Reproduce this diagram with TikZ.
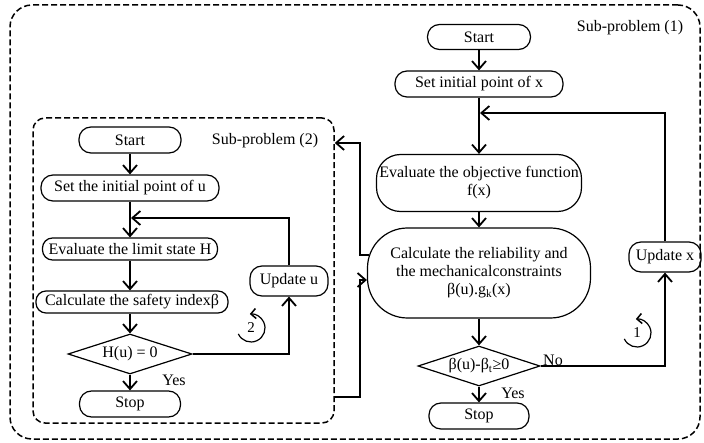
\documentclass[tikz,border=0pt]{standalone}
\usepackage{fontspec}
\setmainfont{Liberation Serif}
\usetikzlibrary{arrows.meta,shapes.geometric}

\begin{document}
\begin{tikzpicture}[x=1pt,y=1pt,
  every node/.style={font=\fontsize{16}{18}\selectfont},
  flow/.style={draw,line width=1.2pt,rounded corners=12pt,minimum height=26pt,inner sep=2pt,align=center},
  test/.style={draw,line width=1.2pt,diamond,aspect=3,inner sep=0pt,minimum width=122pt,minimum height=40pt},
  sub/.style={draw,line width=1.5pt,dash pattern=on 6pt off 3pt,rounded corners=#1,inner sep=0pt},
  go/.style={line width=1.4pt,-{Straight Barb[length=8pt,width=14pt,line width=1.8pt]}},
  turn/.style={line width=1.2pt,-{Straight Barb[length=5pt,width=10pt,line width=1.5pt]}}]
  \useasboundingbox (0,0) rectangle (704,442);

  % the two sub-problem frames
  \node[sub=22pt,minimum width=690pt,minimum height=434pt] (sub1) at (355,220) {};
  \node[sub=12pt,minimum width=301pt,minimum height=305pt] (sub2) at (183.5,171.5) {};
  \node (lab1) at (630,414) {Sub-problem (1)};
  \node (lab2) at (265,301) {Sub-problem (2)};

  % sub-problem (2)
  \node[flow,minimum width=102pt] (start2) at (130,302) {Start};
  \node[flow,minimum width=178pt] (setu) at (130,254) {Set the initial point of u};
  \node[flow,minimum width=175pt,minimum height=22pt,rounded corners=10pt] (evalH) at (130,193) {Evaluate the limit state H};
  \node[flow,minimum width=192pt,minimum height=22pt,rounded corners=10pt] (safety) at (132,140) {Calculate the safety indexβ};
  \node[test,minimum width=124pt] (diamH) at (130,88) {H(u) = 0};
  \node[flow,minimum width=101pt] (stop2) at (130,38) {Stop};
  \node[flow,minimum width=78pt,minimum height=30pt] (updu) at (289,161) {Update u};
  \node (yes2) at (174,62) {Yes};
  \coordinate (backu) at (131,224);

  \draw[go] (start2) -- (setu);
  \draw[go] (setu) -- (evalH);
  \draw[go] (evalH) -- (evalH |- safety.north);
  \draw[go] (evalH |- safety.south) -- (diamH);
  \draw[go] (diamH) -- (stop2);
  \draw[go] (diamH.east) -| (updu.south);
  \draw[go] (updu.north) |- (backu);

  \node[font=\fontsize{15}{16}\selectfont] (n2) at (251,114) {2};
  \draw[turn] (n2) ++(205:14) arc[start angle=205,end angle=455,radius=14];

  % sub-problem (1)
  \node[flow,minimum width=103pt,minimum height=25pt] (start1) at (479,405) {Start};
  \node[flow,minimum width=168pt] (setx) at (479,358) {Set initial point of x};
  \node[flow,minimum width=205pt,minimum height=57pt,rounded corners=24pt] (evalf) at (479,259) {Evaluate the objective function\\f(x)};
  \node[flow,minimum width=223pt,minimum height=90pt,rounded corners=40pt] (calcR) at (479,169)
    {Calculate the reliability and\\the mechanicalconstraints\\β(u).g\textsubscript{k}(x)};
  \node[test] (diamB) at (479,76) {β(u)-β\textsubscript{t}≥0};
  \node[flow,minimum width=100pt] (stop1) at (479,26) {Stop};
  \node[flow,minimum width=72pt,minimum height=30pt] (updx) at (665,185) {Update x};
  \node (yes1) at (513,49) {Yes};
  \node (no1) at (553,82) {No};
  \coordinate (backx) at (480,329);

  \draw[go] (start1) -- (setx);
  \draw[go] (setx) -- (evalf);
  \draw[go] (evalf) -- (calcR);
  \draw[go] (calcR) -- (diamB);
  \draw[go] (diamB) -- (stop1);
  \draw[go] (diamB.east) -| (updx.south);
  \draw[go] (updx.north) |- (backx);

  \node[font=\fontsize{15}{16}\selectfont] (n1) at (637,109) {1};
  \draw[turn] (n1) ++(205:14) arc[start angle=205,end angle=455,radius=14];

  % links between the two sub-problems
  \coordinate (busup) at (360,299);
  \coordinate (busdown) at (360,45);
  \draw[go] ([shift={(2pt,18pt)}]calcR.west) -| (busup) -- (sub2.east |- busup);
  \draw[go] (sub2.east |- busdown) -- (busdown) |- ([yshift=-7pt]calcR.west);
\end{tikzpicture}
\end{document}
